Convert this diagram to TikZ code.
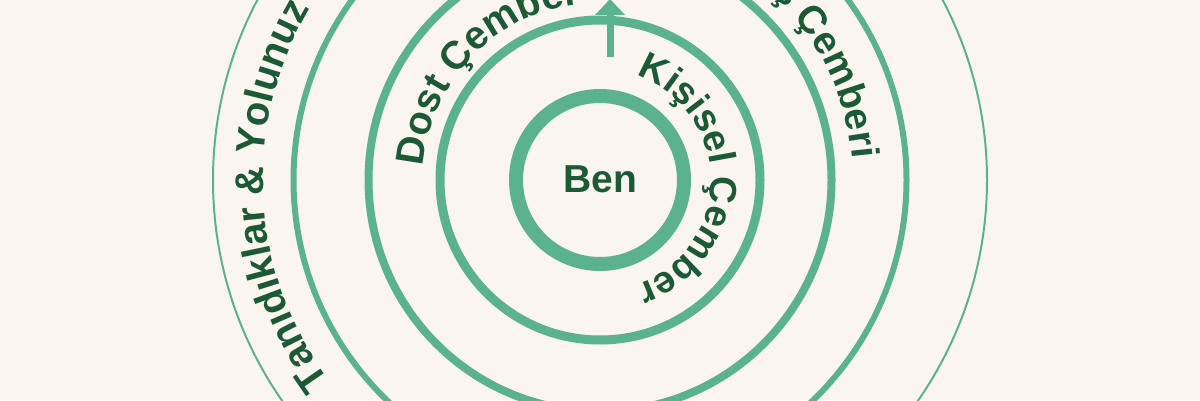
\documentclass[tikz,border=0pt]{standalone}
\usepackage{fontspec}
\setmainfont{Liberation Sans}
\usetikzlibrary{decorations.text,arrows.meta,calc}
\definecolor{bgc}{HTML}{FBF5EF}
\definecolor{ringc}{HTML}{5BB38E}
\definecolor{txtc}{HTML}{1B5A35}
\newcommand\lblfmt[1]{\fontsize{#1}{#1}\selectfont\bfseries\color{txtc}}
\begin{document}
\begin{tikzpicture}[x=1pt,y=1pt,
  ring/.style={draw=ringc},
  pointer/.style={draw=ringc, line width=7pt, -{Triangle[width=29pt,length=16pt]}}]
\fill[bgc] (0,0) rectangle (1200,400);
\useasboundingbox (0,0) rectangle (1200,400);
\clip (0,0) rectangle (1200,400);
\coordinate (c) at (600,220);
\draw[ring, line width=2pt] (c) circle[radius=387];
\draw[ring, line width=6pt] (c) circle[radius=306.5];
\draw[ring, line width=8pt] (c) circle[radius=231.5];
\draw[ring, line width=9pt] (c) circle[radius=160];
\draw[ring, line width=14pt] (c) circle[radius=84];
\coordinate (ab) at (610,343);
\coordinate (at) at (610,401);
\draw[pointer] (ab) -- (at);
\node[font=\fontsize{39}{41}\selectfont\bfseries, text=txtc, inner sep=0pt] (ben) at (600,221) {Ben};
\path[decorate, decoration={text along path, text align=center,
  text={|\lblfmt{38}|Kişisel Çember}}]
  ($(c)+(90:111)$) arc[start angle=90, end angle=-90, radius=111];
\path[decorate, decoration={text along path, text align=center,
  text={|\lblfmt{39.5}|Dost Çember}}]
  ($(c)+(216:177)$) arc[start angle=216, end angle=56, radius=177];
\path[decorate, decoration={text along path, text align=right,
  text={|\lblfmt{39}|İş Çemberi}}]
  ($(c)+(75:253)$) arc[start angle=75, end angle=4.8, radius=253];
\path[decorate, decoration={text along path, text align=left,
  text={|\lblfmt{40}|Tanıdıklar {\&} Yolunuz}}]
  ($(c)+(216.6:337)$) arc[start angle=216.6, end angle=120, radius=337];
\end{tikzpicture}
\end{document}
